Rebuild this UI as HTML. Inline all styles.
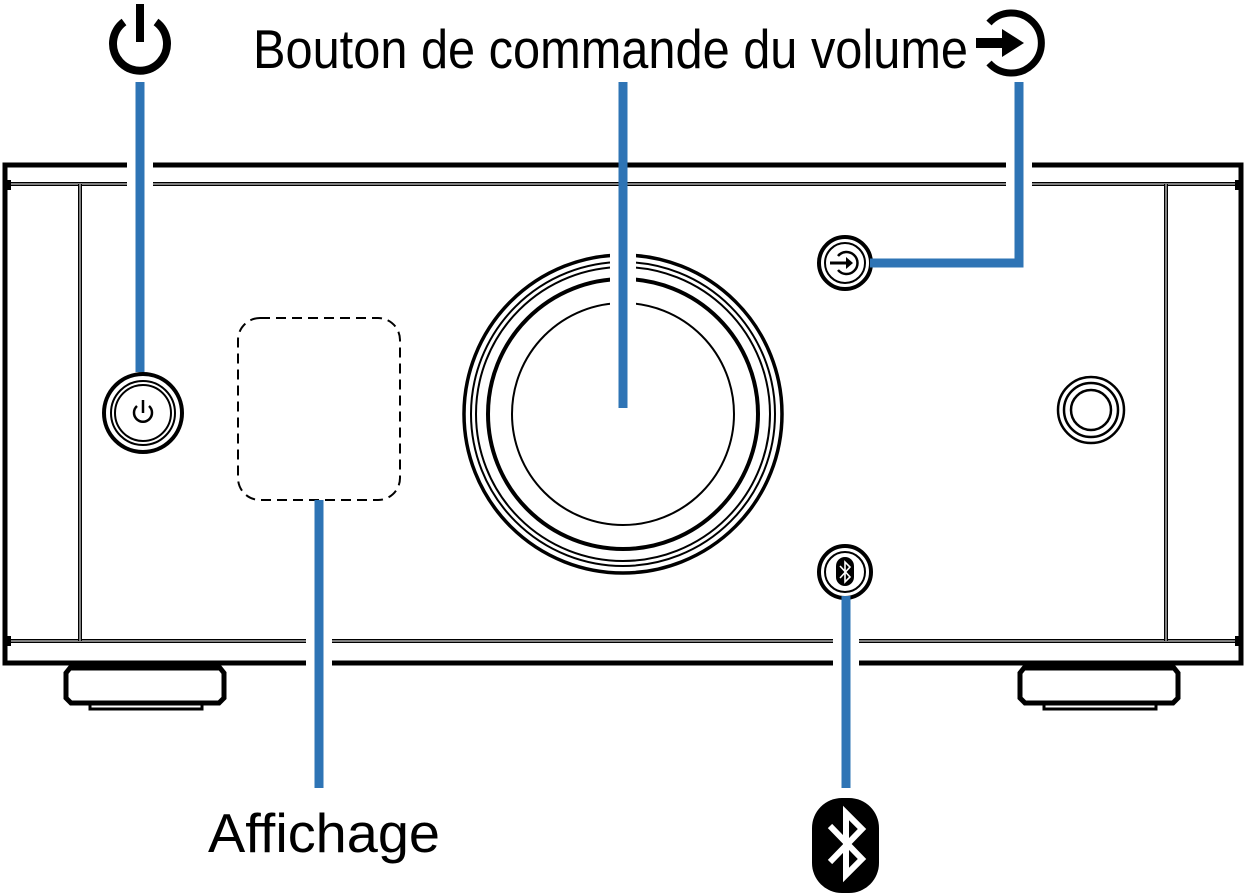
<!DOCTYPE html>
<html><head><meta charset="utf-8"><style>
html,body{margin:0;padding:0;background:#fff;}
svg{display:block;}
text{font-family:"Liberation Sans",Arial,sans-serif;fill:#000;}
</style></head><body>
<svg width="1246" height="894" viewBox="0 0 1246 894" xmlns="http://www.w3.org/2000/svg">
<!-- chassis -->
<g fill="none" stroke="#000">
  <rect x="5" y="165" width="1236" height="498" stroke-width="5"/>
  <line x1="5" y1="184" x2="1241" y2="184" stroke-width="4"/>
  <line x1="5" y1="184" x2="1241" y2="184" stroke="#fff" stroke-width="1"/>
  <line x1="5" y1="641" x2="1241" y2="641" stroke-width="4"/>
  <line x1="5" y1="641" x2="1241" y2="641" stroke="#fff" stroke-width="1"/>
  <line x1="80" y1="184" x2="80" y2="641" stroke-width="4"/>
  <line x1="80" y1="184" x2="80" y2="641" stroke="#fff" stroke-width="1"/>
  <line x1="1166" y1="184" x2="1166" y2="641" stroke-width="4"/>
  <line x1="1166" y1="184" x2="1166" y2="641" stroke="#fff" stroke-width="1"/>
</g>
<rect x="3" y="180" width="8" height="10" fill="#000"/>
<rect x="3" y="636" width="8" height="10" fill="#000"/>
<rect x="1235" y="180" width="8" height="10" fill="#000"/>
<rect x="1235" y="636" width="8" height="10" fill="#000"/>
<!-- feet -->
<g fill="none" stroke="#000">
  <g id="foot">
    <path d="M70 668 L220 668 L224 673 L224 698 L219 703 L71 703 L66 698 L66 673 Z" stroke-width="5"/>
    <rect x="110" y="663" width="72" height="5" stroke-width="2"/>
    <rect x="90" y="703" width="112" height="6" stroke-width="3"/>
  </g>
  <g transform="translate(954,0)">
    <path d="M70 668 L220 668 L224 673 L224 698 L219 703 L71 703 L66 698 L66 673 Z" stroke-width="5"/>
    <rect x="110" y="663" width="72" height="5" stroke-width="2"/>
    <rect x="90" y="703" width="112" height="6" stroke-width="3"/>
  </g>
</g>
<!-- power button -->
<g fill="none" stroke="#000">
  <circle cx="143" cy="413" r="39" stroke-width="4"/>
  <circle cx="143" cy="413" r="32" stroke-width="2"/>
  <circle cx="143" cy="413" r="28" stroke-width="2"/>
  <path d="M137 406 A9 9 0 1 0 149 406" stroke-width="2.5"/>
  <line x1="143" y1="400" x2="143" y2="413" stroke-width="2.5"/>
</g>
<!-- display -->
<rect x="238" y="318" width="162" height="182" rx="22" fill="none" stroke="#000" stroke-width="2" stroke-dasharray="10,6"/>
<!-- knob -->
<g fill="none" stroke="#000">
  <circle cx="623" cy="414" r="159" stroke-width="3.5"/>
  <circle cx="623" cy="414" r="152" stroke-width="2"/>
  <circle cx="623" cy="414" r="147" stroke-width="2"/>
  <circle cx="623" cy="414" r="135" stroke-width="4"/>
  <circle cx="623" cy="414" r="111" stroke-width="2"/>
</g>
<!-- input button -->
<g fill="none" stroke="#000">
  <circle cx="845" cy="263" r="26" stroke-width="4"/>
  <circle cx="845" cy="263" r="20" stroke-width="2"/>
  <path d="M838 256 A11 11 0 1 1 838 270" stroke-width="2.5"/>
  <line x1="830" y1="263" x2="848" y2="263" stroke-width="3"/>
</g>
<path d="M846 257 L853 263 L846 269 Z" fill="#000"/>
<!-- bluetooth button -->
<g fill="none" stroke="#000">
  <circle cx="845" cy="572" r="26" stroke-width="4"/>
  <circle cx="845" cy="572" r="20" stroke-width="2"/>
</g>
<rect x="836" y="557" width="18" height="29" rx="9" fill="#000"/>
<path d="M840 566 L850 577 L845 582 L845 562 L850 567 L840 578" fill="none" stroke="#fff" stroke-width="1.6"/>
<!-- headphone -->
<g fill="none" stroke="#000" stroke-width="2.5">
  <circle cx="1091" cy="410" r="33"/>
  <circle cx="1091" cy="410" r="27"/>
  <circle cx="1091" cy="410" r="20"/>
</g>
<!-- leader white gaps -->
<g stroke="#fff" stroke-width="26">
  <line x1="140" y1="160" x2="140" y2="190"/>
  <line x1="1019" y1="160" x2="1019" y2="190"/>
  <line x1="623" y1="250" x2="623" y2="305"/>
  <line x1="319" y1="636" x2="319" y2="668"/>
  <line x1="846" y1="636" x2="846" y2="668"/>
</g>
<!-- leaders -->
<g stroke="#2e74b5" stroke-width="9" fill="none">
  <line x1="140" y1="82" x2="140" y2="372"/>
  <line x1="623" y1="82" x2="623" y2="408"/>
  <polyline points="1019,82 1019,263 870,263"/>
  <line x1="319" y1="500" x2="319" y2="788"/>
  <line x1="846" y1="596" x2="846" y2="788"/>
</g>
<!-- top power icon -->
<g fill="none" stroke="#000" stroke-width="8">
  <path d="M124 22 A27 27 0 1 0 156 22"/>
  <line x1="140" y1="4" x2="140" y2="42"/>
</g>
<!-- top input icon -->
<g fill="none" stroke="#000" stroke-width="7">
  <path d="M989 23 A30 30 0 1 1 989 63"/>
</g>
<rect x="976" y="38" width="28" height="10" fill="#000"/>
<path d="M1002 29 L1024 43 L1002 57 Z" fill="#000"/>
<!-- labels -->
<text x="253" y="68" font-size="55" textLength="715" lengthAdjust="spacingAndGlyphs">Bouton de commande du volume</text>
<text x="208" y="852" font-size="55" textLength="232" lengthAdjust="spacingAndGlyphs">Affichage</text>
<!-- big bluetooth -->
<rect x="812" y="798" width="67" height="95" rx="30" fill="#000"/>
<path d="M830 826 L862 859 L846 875 L846 813 L862 829 L830 862" fill="none" stroke="#fff" stroke-width="6" stroke-linejoin="miter"/>
</svg>
</body></html>
